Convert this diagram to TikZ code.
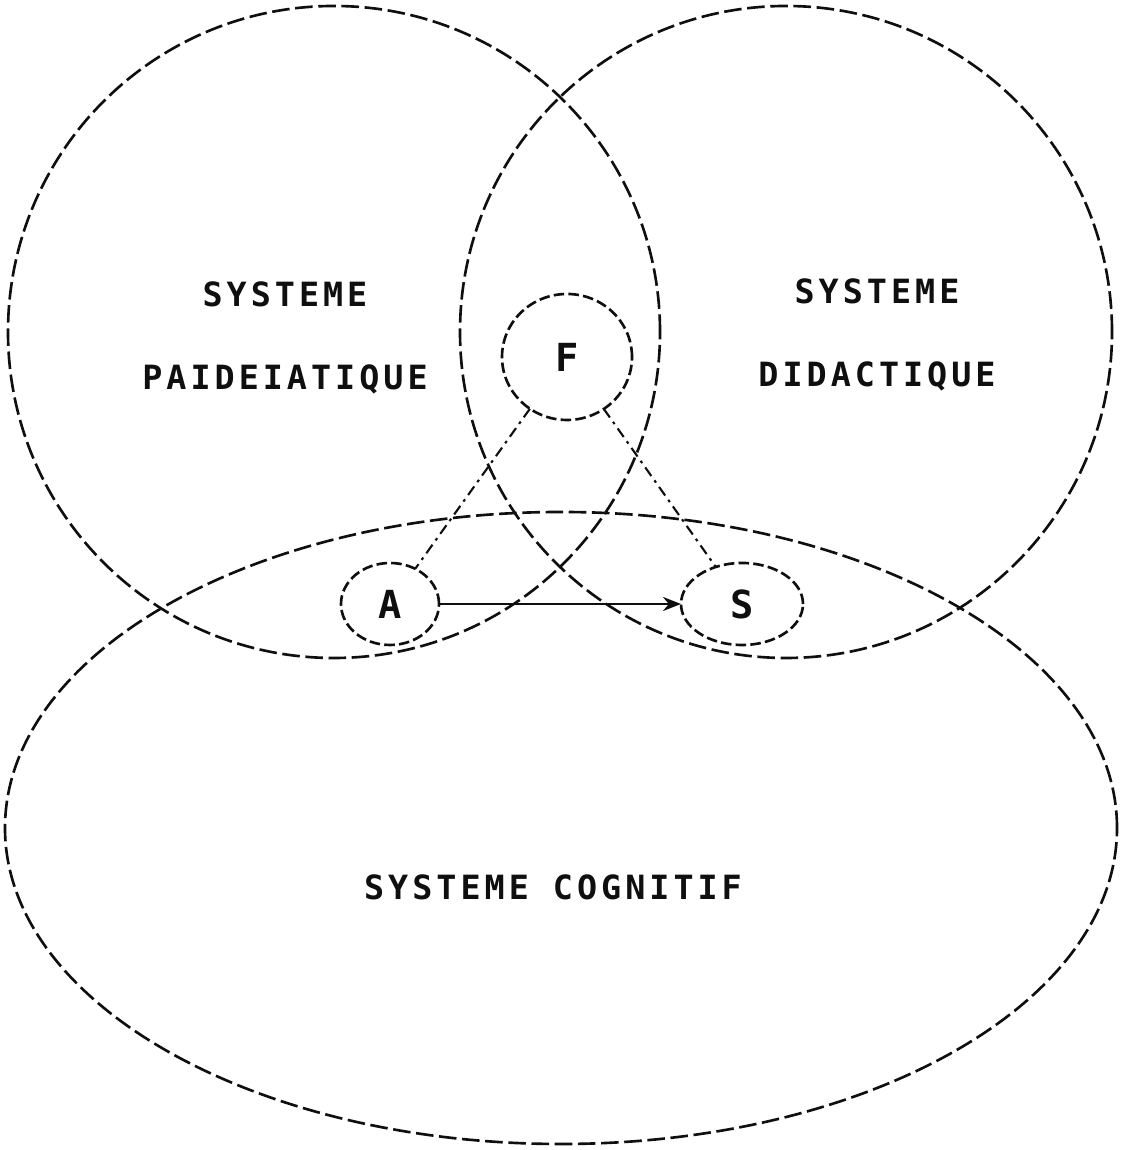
\documentclass[tikz,border=0pt]{standalone}
\usepackage{fontspec}
\usetikzlibrary{arrows.meta,shapes.geometric}
\newfontfamily\sysfont{DejaVu Sans Mono}[LetterSpace=12]
\definecolor{sysInk}{RGB}{15,15,15}
\tikzset{
  sysring/.style={
    circle, draw=sysInk, line width=0.75pt, dash pattern=on 5pt off 1.6pt,
    inner sep=0pt, outer sep=0pt},
  sysoval/.style={
    ellipse, draw=sysInk, line width=0.75pt, dash pattern=on 5pt off 1.6pt,
    inner sep=0pt, outer sep=0pt},
  polenode/.style={
    ellipse, draw=sysInk, line width=0.75pt, dash pattern=on 3pt off 1.2pt,
    inner sep=0pt, outer sep=0pt, text=sysInk,
    font=\sysfont\bfseries\fontsize{11}{13}\selectfont},
  syslabel/.style={
    text=sysInk, align=center,
    font=\sysfont\bfseries\fontsize{9.5}{11}\selectfont},
  linkdash/.style={
    draw=sysInk, line width=0.6pt,
    dash pattern=on 3pt off 1.5pt on 0.8pt off 1.5pt},
  linkarrow/.style={-{Stealth[length=1.8mm,width=1.4mm]}, draw=sysInk, line width=0.8pt}
}
\begin{document}
\begin{tikzpicture}
  \useasboundingbox (0,0) rectangle (11.21,11.50);

  % the three systems
  \node[sysring, minimum size=6.52cm] (paid) at (3.34,8.18) {};
  \node[sysring, minimum size=6.52cm] (dida) at (7.86,8.18) {};
  \node[sysoval, minimum width=11.12cm, minimum height=6.32cm] (cogn) at (5.61,3.22) {};

  \node[syslabel] (paidtxt) at (2.85,8.12) {SYSTEME\\[12.5pt]PAIDEIATIQUE};
  \node[syslabel] (didatxt) at (8.77,8.15) {SYSTEME\\[12.5pt]DIDACTIQUE};
  \node[syslabel] (cogntxt) at (5.53,2.63) {SYSTEME COGNITIF};

  % the three poles
  \node[polenode, minimum width=1.30cm, minimum height=1.26cm] (F) at (5.67,7.93) {F};
  \node[polenode, minimum width=0.98cm, minimum height=0.82cm] (A) at (3.90,5.46) {A};
  \node[polenode, minimum width=1.22cm, minimum height=0.82cm] (S) at (7.42,5.46) {S};

  \draw[linkdash] (F) -- (A);
  \draw[linkdash] (F) -- (S);
  \draw[linkarrow] (A.east) -- (S.west);
\end{tikzpicture}
\end{document}
